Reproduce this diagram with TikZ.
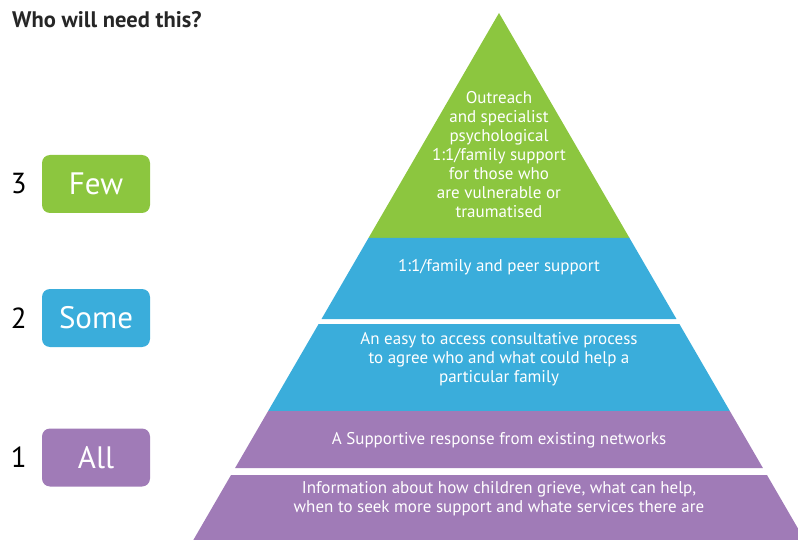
\documentclass[tikz,border=0pt]{standalone}
\usepackage{fontspec}
\setmainfont{PT Sans}
\usetikzlibrary{positioning}

\definecolor{fewgreen}{HTML}{8CC63F}
\definecolor{someblue}{HTML}{3AADDB}
\definecolor{allpurple}{HTML}{A07BB7}

\tikzset{
  levelbox/.style={rounded corners=8pt, minimum width=108pt, minimum height=58pt,
    inner sep=0pt, text=white, font=\fontsize{31}{34}\selectfont},
  levelnum/.style={inner sep=0pt, font=\fontsize{29}{32}\selectfont},
  bandtext/.style={inner sep=0pt, text=white, align=center, font=\fontsize{17}{19}\selectfont}
}

\begin{document}
\begin{tikzpicture}[x=1pt,y=-1pt]
	\useasboundingbox (0,0) rectangle (798,540);
	% bands of the pyramid: top / bottom / colour, sides run down from the apex (499,13)
	\foreach \ya/\yb/\col in {13/238/fewgreen, 238/319/someblue, 324/411/someblue, 411/468/allpurple, 475/540/allpurple}{
		\pgfmathsetmacro\wa{0.58*(\ya-13)}
		\pgfmathsetmacro\wb{0.58*(\yb-13)}
		\fill[\col] (499-\wa,\ya)--(499+\wa,\ya)--(499+\wb,\yb)--(499-\wb,\yb)--cycle;
	}
	\node[bandtext] (outreach) at (499,155) {Outreach\\and specialist\\psychological\\1:1/family support\\for those who\\are vulnerable or\\traumatised};
	\node[bandtext] (peer) at (499,267) {1:1/family and peer support};
	\node[bandtext] (consult) at (499,359) {An easy to access consultative process\\to agree who and what could help a\\particular family};
	\node[bandtext] (networks) at (499,440) {A Supportive response from existing networks};
	\node[bandtext] (info) at (499,499) {Information about how children grieve, what can help,\\when to seek more support and whate services there are};
	% who needs which level
	\node[anchor=base west, inner sep=0pt, text=black!85, font=\bfseries\fontsize{22.5}{25}\selectfont] (title) at (12,28) {Who will need this?};
	\node[levelbox, fill=fewgreen] (few) at (96,184) {Few};
	\node[levelbox, fill=someblue] (some) at (96,318) {Some};
	\node[levelbox, fill=allpurple] (all) at (96,457.5) {All};
	\node[levelnum, left=15pt of few] (n3) {3};
	\node[levelnum, left=15pt of some] (n2) {2};
	\node[levelnum, left=15pt of all] (n1) {1};
\end{tikzpicture}
\end{document}
